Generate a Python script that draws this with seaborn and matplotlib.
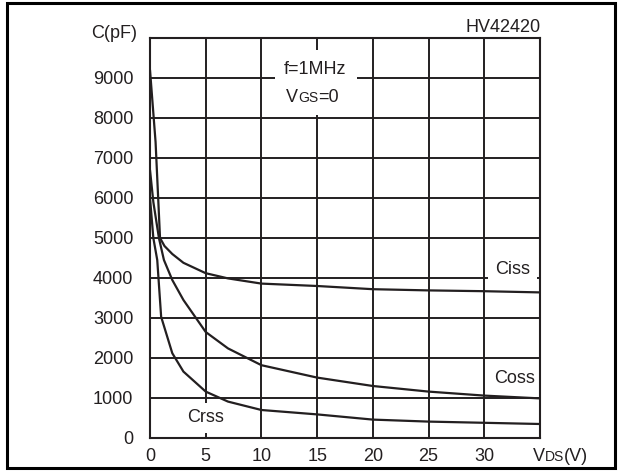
import matplotlib
matplotlib.use('Agg')
import matplotlib.pyplot as plt
import seaborn as sns
from matplotlib.patches import Rectangle
from matplotlib.offsetbox import TextArea, HPacker, VPacker, AnnotationBbox

# Dữ liệu đọc từ đồ thị (V_DS theo V, điện dung theo pF)
vds_ciss = [0, 0.5, 0.9, 1.3, 2, 3, 5, 7, 10, 15, 20, 25, 30, 35]
ciss = [9200, 7400, 5000, 4800, 4600, 4380, 4120, 3990, 3860, 3800, 3720, 3690, 3670, 3640]

vds_coss = [0, 0.3, 0.8, 1.25, 2, 3, 5, 7, 10, 15, 20, 25, 30, 35]
coss = [6700, 5900, 5000, 4450, 3950, 3450, 2650, 2240, 1820, 1510, 1300, 1160, 1060, 990]

vds_crss = [0, 0.3, 0.65, 1, 2, 3, 5, 7, 10, 15, 20, 25, 30, 35]
crss = [6000, 5000, 4450, 3030, 2120, 1660, 1160, 910, 700, 590, 460, 410, 380, 350]

x_ticks = [0, 5, 10, 15, 20, 25, 30]
y_ticks = [0, 1000, 2000, 3000, 4000, 5000, 6000, 7000, 8000, 9000]

ink = '#231f20'
fs = 13

sns.set_style('white')
plt.rcParams['font.family'] = ['Liberation Sans', 'DejaVu Sans']

fig = plt.figure(figsize=(6.23, 4.71), dpi=100)
ax = fig.add_axes([150 / 623, 33 / 471, 390 / 623, 400 / 471])

for xs, ys in [(vds_ciss, ciss), (vds_coss, coss), (vds_crss, crss)]:
    sns.lineplot(x=xs, y=ys, ax=ax, color=ink, lw=1.6, zorder=4)

ax.set_xlim(0, 35)
ax.set_ylim(0, 10000)
ax.set_xticks(x_ticks)
ax.set_xticklabels([str(v) for v in x_ticks])
ax.set_yticks(y_ticks)
ax.set_yticklabels([str(v) for v in y_ticks])
ax.tick_params(axis='x', length=0, pad=7, labelsize=fs, colors=ink)
ax.tick_params(axis='y', length=0, pad=12, labelsize=fs, colors=ink)
ax.grid(True, color=ink, lw=1.4)
ax.set_axisbelow(True)
for s in ax.spines.values():
    s.set_color(ink)
    s.set_linewidth(1.5)
ax.set_xlabel('')
ax.set_ylabel('')

# Hộp chú thích điều kiện đo (che lưới)
ax.add_patch(Rectangle((11.2, 8075), 7.4, 1625, fc='white', ec='none', zorder=2))
ax.text(14.8, 9200, 'f=1MHz', ha='center', va='center', fontsize=fs, color=ink, zorder=3)
vgs = HPacker(children=[TextArea('V', textprops=dict(fontsize=fs, color=ink)),
                        TextArea('GS', textprops=dict(fontsize=10, color=ink)),
                        TextArea('=0', textprops=dict(fontsize=fs, color=ink))],
              align='baseline', pad=0, sep=0)
ax.add_artist(AnnotationBbox(vgs, (14.6, 8500), frameon=False, pad=0,
                             box_alignment=(0.5, 0.5), zorder=3))

# Nhãn các đường
ax.text(32.5, 4220, 'Ciss', ha='center', va='center', fontsize=fs, color=ink, zorder=3,
        bbox=dict(fc='white', ec='none', pad=5))
ax.text(32.7, 1490, 'Coss', ha='center', va='center', fontsize=fs, color=ink, zorder=3)
ax.text(4.95, 500, 'Crss', ha='center', va='center', fontsize=fs, color=ink, zorder=3,
        bbox=dict(fc='white', ec='none', pad=5))

fig.text(137 / 623, (471 - 33.5) / 471, 'C(pF)', ha='right', va='center', fontsize=fs, color=ink)
fig.text(541 / 623, (471 - 27.5) / 471, 'HV42420', ha='right', va='center', fontsize=fs, color=ink)

vds = HPacker(children=[TextArea('V', textprops=dict(fontsize=fs, color=ink)),
                        TextArea('DS', textprops=dict(fontsize=10, color=ink)),
                        TextArea('(V)', textprops=dict(fontsize=fs, color=ink))],
              align='baseline', pad=0, sep=0)
fig.add_artist(AnnotationBbox(vds, (533 / 623, (471 - 456.5) / 471), xycoords='figure fraction',
                              frameon=False, pad=0, box_alignment=(0, 0.5)))

# Khung viền ngoài
fig.patches.append(Rectangle((7 / 623, 3 / 471), 608 / 623, 465 / 471, transform=fig.transFigure,
                             fill=False, ec='black', lw=2.2))

fig.savefig('out.png', dpi=100)
